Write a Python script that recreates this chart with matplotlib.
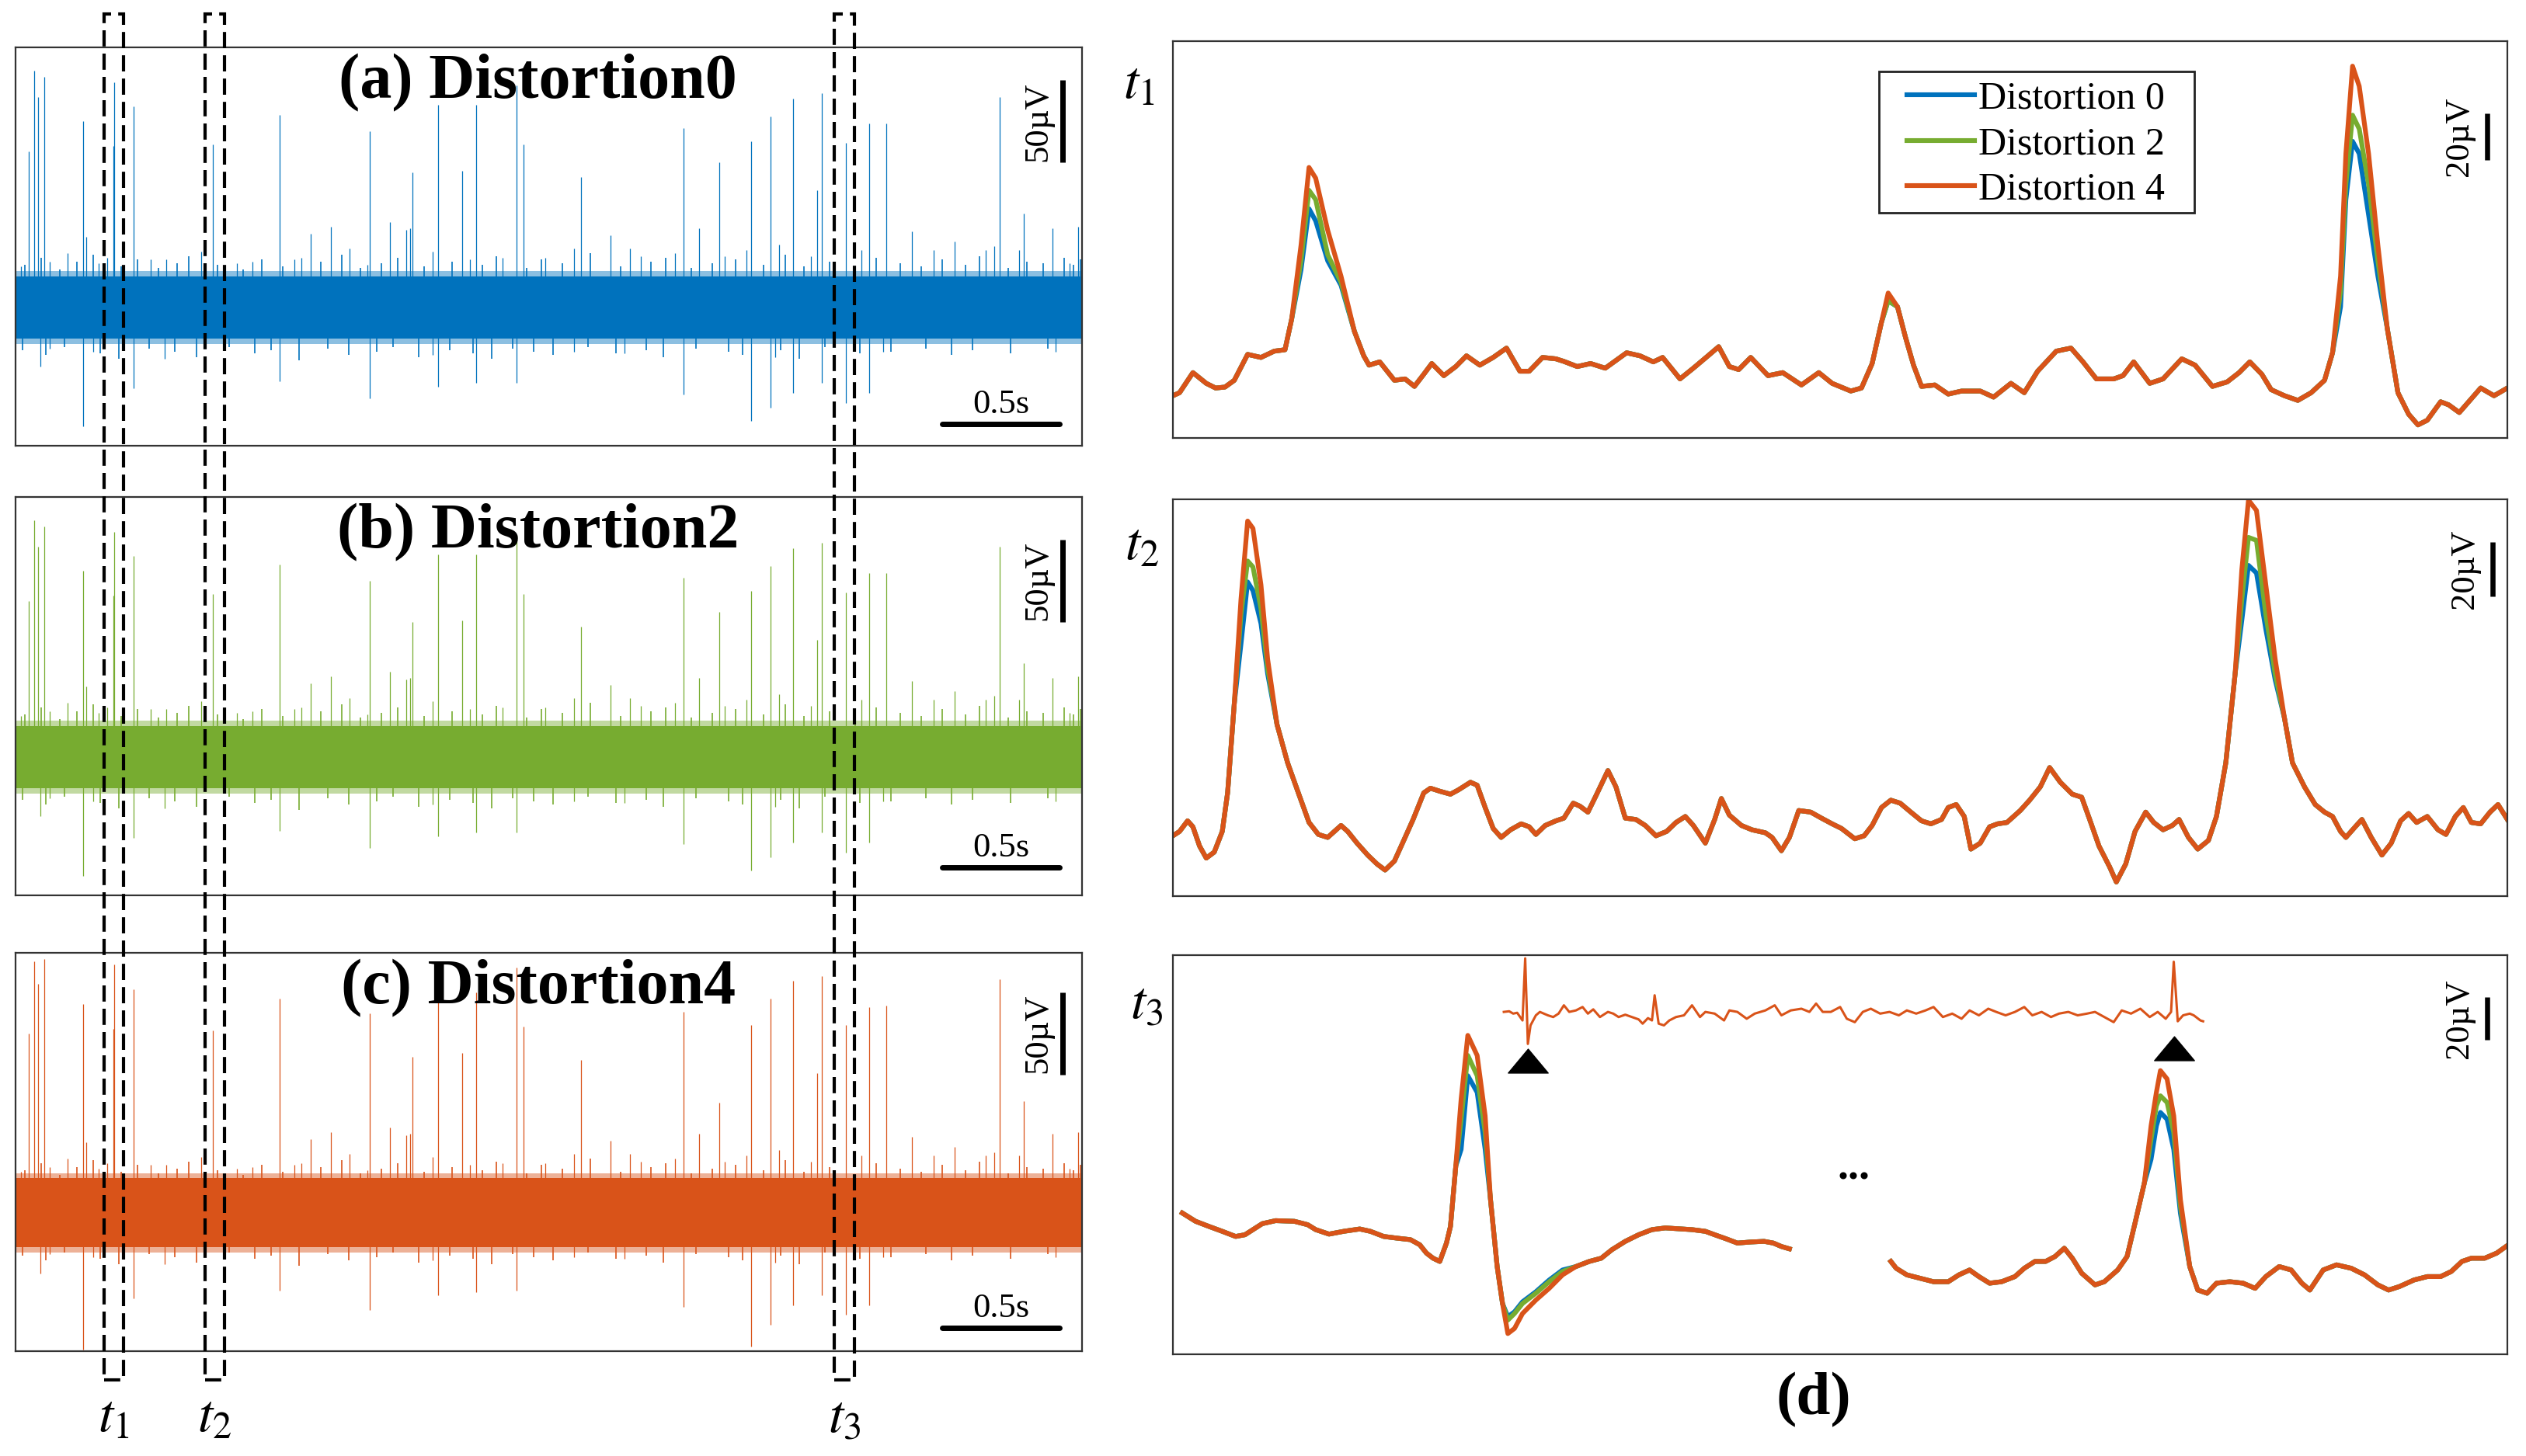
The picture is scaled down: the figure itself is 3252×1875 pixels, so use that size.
import numpy as np
import matplotlib.pyplot as plt
from matplotlib import transforms
from matplotlib.patches import Rectangle
from matplotlib.path import Path

plt.rcParams['font.family'] = ['Liberation Serif', 'DejaVu Serif']
plt.rcParams['mathtext.fontset'] = 'stix'

C_BLUE, C_GREEN, C_ORANGE = '#0072BD', '#77AC30', '#D95319'

# ---------------- left: raw recordings (time in s, amplitude in uV) ----------------
T_END = 4.546
RAW_YLIM = (-83, 159)
band_ab = (-18, 20)
band_c = (-20, 22)

spike_t = [0.055, 0.080, 0.095, 0.122, 0.288, 0.416, 0.422, 0.502, 0.842, 1.126,
           1.509, 1.693, 1.800, 1.904, 1.965, 2.137, 2.167, 2.409, 2.847, 3.000,
           3.137, 3.217, 3.315, 3.416, 3.438, 3.539, 3.640, 3.710, 4.194, 4.298]
spike_up_a = [96, 145, 129, 141, 114, 99, 138, 123, 100, 118,
              108, 83, 124, 84, 124, 136, 100, 80, 110, 89,
              102, 117, 128, 72, 131, 101, 113, 113, 129, 58]
spike_up_c = [110, 154, 140, 155, 128, 113, 152, 137, 112, 131,
              122, 96, 133, 98, 135, 150, 114, 94, 123, 68,
              115, 131, 142, 86, 145, 115, 126, 127, 143, 69]

neg_t = [0.107, 0.288, 0.502, 1.126, 1.509, 1.800, 1.965, 2.137, 2.847, 3.137,
         3.217, 3.315, 3.438, 3.539, 3.640]
neg_a = [-35, -71, -48, -44, -54, -47, -45, -45, -52, -68, -60, -51, -45, -57, -51]
neg_c = [-36, -82, -51, -46, -58, -49, -47, -46, -56, -80, -67, -55, -49, -61, -55]

small_t = [0.024, 0.147, 0.223, 0.300, 0.355, 0.392, 0.575, 0.643, 0.790, 0.943,
           1.010, 1.188, 1.218, 1.258, 1.344, 1.423, 1.500, 1.595, 1.665, 1.681,
           1.778, 1.938, 2.075, 2.259, 2.381, 2.535, 2.620, 2.666, 2.810, 2.914,
           3.024, 3.116, 3.254, 3.392, 3.606, 3.820, 3.912, 4.004, 4.135, 4.172,
           4.279, 4.420, 4.494, 4.530]
small_up = [26, 29, 34, 44, 28, 31, 30, 30, 35, 28,
            29, 30, 31, 46, 50, 37, 27, 53, 48, 49,
            35, 30, 31, 31, 37, 45, 37, 32, 34, 49,
            32, 36, 39, 32, 36, 47, 36, 41, 36, 38,
            36, 49, 28, 50]
small_dn_t = [0.147, 0.331, 0.637, 1.778, 2.381, 2.596, 3.239, 3.698, 4.432]
small_dn = [-24, -26, -30, -28, -26, -27, -29, -26, -26]

# ragged edge of the noise band
fringe_up_t = [0.04, 0.11, 0.19, 0.26, 0.33, 0.45, 0.52, 0.61, 0.69, 0.74,
               0.86, 0.97, 1.05, 1.14, 1.30, 1.39, 1.47, 1.56, 1.63, 1.74,
               1.86, 1.99, 2.05, 2.18, 2.24, 2.33, 2.45, 2.58, 2.71, 2.77,
               2.88, 2.97, 3.07, 3.19, 3.28, 3.36, 3.47, 3.58, 3.67, 3.77,
               3.86, 3.95, 4.05, 4.11, 4.23, 4.31, 4.38, 4.47, 4.51, 4.54]
fringe_up = [27, 31, 24, 29, 33, 26, 30, 25, 28, 32,
             27, 24, 30, 26, 29, 33, 25, 28, 31, 26,
             29, 27, 32, 25, 30, 28, 34, 26, 29, 31,
             25, 28, 30, 27, 33, 26, 29, 24, 31, 28,
             26, 30, 27, 32, 25, 29, 28, 31, 27, 30]
fringe_dn_t = [0.03, 0.13, 0.21, 0.36, 0.44, 0.57, 0.68, 0.77, 0.91, 1.02,
               1.09, 1.21, 1.33, 1.42, 1.54, 1.61, 1.72, 1.85, 1.95, 2.03,
               2.12, 2.21, 2.29, 2.44, 2.56, 2.69, 2.76, 2.90, 3.04, 3.10,
               3.26, 3.34, 3.45, 3.60, 3.73, 3.88, 3.99, 4.08, 4.24, 4.40]
fringe_dn = [-25, -28, -23, -27, -30, -24, -26, -29, -23, -27,
             -25, -31, -24, -28, -26, -23, -29, -25, -27, -30,
             -24, -26, -28, -23, -27, -25, -29, -24, -26, -28,
             -25, -30, -23, -27, -26, -24, -28, -25, -27, -24]

# windows t1, t2, t3 (s)
box_edges = [(0.377, 0.460), (0.808, 0.891), (3.490, 3.576)]

# ---------------- right: zoomed windows (sample, uV) ----------------
t1_x = [0, 0.5, 1.5, 2.5, 3.2, 3.9, 4.6, 5.6, 6.6, 7.6,
        8.4, 8.9, 9.6, 10.2, 10.7, 11.6, 12.6, 13.6, 14.3, 14.7,
        15.5, 16.6, 17.4, 18.1, 18.8, 19.4, 20.3, 21.2, 22.0, 23.0,
        24.0, 25.0, 26.0, 26.7, 27.7, 28.7, 29.3, 30.3, 31.3, 32.4,
        34.0, 35.0, 36.0, 36.7, 38.0, 39.0, 40.1, 40.9, 41.7, 42.4,
        43.3, 44.6, 45.7, 47.1, 48.4, 49.4, 50.8, 51.6, 52.4, 53.1,
        53.6, 54.3, 54.9, 55.5, 56.1, 57.1, 58.1, 59.1, 60.5, 61.5,
        62.8, 63.8, 64.8, 66.2, 67.3, 68.2, 69.2, 70.5, 71.2, 72.0,
        73.2, 74.2, 75.6, 76.6, 77.9, 79.0, 79.9, 80.7, 81.6, 82.3,
        83.3, 84.3, 85.3, 86.3, 86.9, 87.5, 87.9, 88.4, 88.9, 89.6,
        90.3, 91.0, 91.8, 92.6, 93.3, 94.0, 95.0, 95.6, 96.4, 97.3,
        98.0, 99.0, 100.0]
t1_y = [18.1, 19.4, 28.0, 23.4, 21.4, 21.8, 24.7, 35.8, 34.5, 37.2,
        37.8, 50.9, 82.5, 115.9, 111.3, 89.0, 69.3, 45.7, 35.2, 31.2,
        32.6, 24.7, 25.3, 22.1, 27.3, 31.9, 26.7, 30.6, 35.2, 31.2,
        34.5, 38.5, 28.6, 28.6, 34.5, 33.9, 32.8, 30.6, 31.9, 29.9,
        36.5, 35.2, 32.6, 34.5, 25.3, 29.9, 35.2, 39.1, 30.6, 29.3,
        34.5, 26.7, 28.0, 22.7, 28.0, 23.4, 20.1, 21.4, 31.9, 49.6,
        62.1, 56.2, 43.1, 31.2, 22.1, 22.7, 18.8, 20.1, 20.1, 17.5,
        23.4, 19.4, 28.6, 37.2, 38.5, 32.6, 25.3, 25.3, 26.7, 32.6,
        23.4, 25.3, 33.9, 31.2, 22.1, 24.0, 28.0, 32.6, 27.3, 20.7,
        18.1, 16.1, 19.4, 24.7, 36.5, 69.3, 121.8, 159.3, 150.7, 121.8,
        82.5, 47.0, 19.4, 10.2, 5.6, 7.6, 15.5, 14.2, 10.9, 16.8,
        21.4, 18.1, 21.4]
t1_peak_x = [9.6, 10.2, 10.7, 11.6, 12.6, 53.6, 87.5, 87.9, 88.4, 88.9, 89.6, 90.3]
t1_peak_blue = [72.0, 98.2, 93.0, 75.9, 65.4, 58.8, 56.2, 102.1, 127.1, 121.8, 95.6, 69.3]
t1_peak_green = [75.9, 106.1, 102.1, 78.5, 66.7, 58.8, 62.8, 108.7, 138.3, 132.4, 108.7, 75.9]

t2_x = [0, 0.5, 1.1, 1.5, 2.0, 2.5, 3.1, 3.7, 4.1, 4.6,
        5.1, 5.6, 6.0, 6.6, 7.1, 7.8, 8.6, 9.4, 10.2, 10.9,
        11.6, 12.1, 12.6, 13.1, 13.8, 14.6, 15.3, 15.9, 16.6, 17.3,
        18.0, 18.8, 19.3, 20.0, 20.8, 21.4, 22.3, 22.8, 23.4, 24.0,
        24.6, 25.3, 26.1, 26.7, 27.2, 27.9, 28.7, 29.3, 30.0, 30.5,
        31.1, 31.7, 32.6, 33.2, 33.9, 34.7, 35.4, 36.2, 37.0, 37.7,
        38.4, 39.0, 39.9, 40.6, 41.1, 41.7, 42.6, 43.4, 44.4, 44.9,
        45.6, 46.2, 46.9, 47.8, 48.6, 49.4, 50.1, 51.1, 51.8, 52.4,
        53.1, 53.8, 54.5, 55.3, 56.1, 56.8, 57.6, 58.1, 58.7, 59.3,
        59.8, 60.5, 61.2, 61.8, 62.5, 63.5, 64.2, 65.0, 65.7, 66.5,
        67.4, 68.1, 68.7, 69.4, 70.2, 70.7, 71.4, 72.1, 72.9, 73.5,
        74.2, 74.9, 75.4, 76.1, 76.8, 77.6, 78.2, 78.9, 79.6, 80.1,
        80.6, 81.2, 81.9, 82.6, 83.3, 83.9, 84.8, 85.6, 86.3, 86.9,
        87.5, 87.9, 88.6, 89.1, 89.8, 90.6, 91.3, 92.0, 92.6, 93.2,
        94.0, 94.8, 95.4, 96.1, 96.7, 97.3, 98.0, 98.7, 99.3, 100.0]
t2_y = [22.2, 23.8, 27.7, 25.5, 18.4, 14.0, 16.2, 23.8, 38.0, 70.8,
        109.1, 138.0, 135.3, 114.5, 87.2, 63.2, 49.0, 38.0, 27.1, 22.7,
        21.6, 23.8, 26.0, 23.8, 19.5, 15.1, 11.8, 9.6, 12.9, 20.5,
        28.2, 38.0, 39.7, 38.6, 37.5, 39.1, 41.9, 40.8, 32.6, 24.9,
        21.6, 24.4, 26.6, 25.5, 22.7, 26.0, 27.7, 28.7, 34.2, 33.1,
        30.9, 36.9, 46.2, 40.2, 28.7, 28.2, 26.0, 22.2, 23.8, 27.1,
        29.3, 26.0, 19.5, 28.2, 35.9, 29.8, 26.0, 24.4, 23.3, 21.6,
        16.7, 21.6, 31.5, 30.9, 28.7, 26.6, 24.9, 21.1, 22.2, 26.0,
        32.6, 35.3, 34.2, 30.9, 27.7, 26.6, 28.2, 32.6, 33.7, 29.3,
        17.3, 19.5, 25.5, 26.6, 27.1, 31.5, 35.3, 40.2, 47.3, 41.9,
        37.5, 36.4, 28.2, 18.4, 10.7, 5.2, 11.8, 23.8, 30.9, 27.1,
        24.4, 26.0, 28.2, 21.6, 17.3, 20.5, 29.3, 49.0, 81.8, 120.0,
        145.7, 141.9, 114.5, 87.2, 65.4, 49.0, 40.2, 33.7, 30.9, 29.3,
        23.8, 21.6, 25.5, 28.2, 21.6, 15.1, 19.5, 27.7, 30.4, 27.1,
        29.3, 24.4, 22.7, 29.3, 32.6, 27.1, 26.6, 30.9, 33.7, 28.2]
t2_peak_x = [5.1, 5.6, 6.0, 6.6, 7.1, 80.1, 80.6, 81.2, 81.9, 82.6]
t2_peak_blue = [92.7, 115.6, 112.4, 100.3, 81.8, 101.4, 121.7, 118.9, 98.2, 79.6]
t2_peak_green = [103.6, 123.3, 121.1, 105.8, 83.9, 109.1, 132.0, 130.9, 103.6, 81.8]

t3a_x = [0.7, 1.7, 2.7, 3.7, 4.7, 5.4, 6.0, 6.7, 7.7, 9.1,
         10.1, 10.7, 11.7, 12.8, 14.0, 14.8, 15.8, 16.8, 17.8, 18.5,
         19.0, 19.5, 20.0, 20.5, 20.8, 21.2, 21.6, 22.1, 22.8, 23.4,
         23.8, 24.3, 24.7, 25.1, 25.6, 26.2, 27.2, 28.2, 29.2, 30.2,
         31.2, 32.1, 32.9, 33.9, 34.9, 35.9, 36.9, 37.9, 38.9, 39.9,
         40.6, 41.5, 42.3, 43.3, 44.3, 45.0, 45.6, 46.2]
t3a_y = [66.2, 62.3, 59.9, 57.6, 55.2, 56.0, 58.4, 61.2, 62.6, 62.3,
         60.7, 58.4, 56.3, 57.6, 58.7, 57.6, 55.2, 54.4, 53.7, 51.3,
         47.4, 45.0, 43.5, 52.1, 59.9, 88.2, 119.6, 149.4, 140.0, 111.7,
         72.5, 41.1, 23.8, 9.7, 12.1, 19.1, 25.4, 30.9, 37.2, 41.1,
         43.5, 45.0, 49.0, 52.9, 56.0, 58.4, 59.2, 58.8, 58.4, 57.6,
         56.0, 54.0, 52.1, 52.6, 52.9, 52.1, 50.5, 49.4]
t3a_peak_x = [21.6, 22.1, 22.8, 23.4, 25.1, 25.6, 26.2, 27.2, 28.2, 29.2]
t3a_peak_blue = [96.0, 130.5, 122.7, 96.0, 17.6, 19.9, 24.6, 29.3, 34.8, 39.5]
t3a_peak_green = [110.1, 140.0, 130.5, 103.9, 16.0, 19.1, 23.8, 28.6, 34.0, 38.8]

t3b_x = [53.8, 54.2, 55.0, 56.0, 57.0, 58.1, 58.9, 59.7, 60.4, 61.2,
         62.1, 63.1, 63.8, 64.6, 65.4, 66.1, 66.8, 67.4, 68.1, 69.1,
         69.8, 70.8, 71.5, 72.1, 72.8, 73.3, 73.7, 74.0, 74.5, 75.0,
         75.5, 76.2, 76.8, 77.5, 78.2, 79.2, 80.2, 81.1, 81.9, 82.9,
         83.8, 84.6, 85.2, 86.2, 87.2, 88.3, 89.3, 90.3, 91.1, 91.9,
         93.0, 94.0, 95.0, 95.8, 96.6, 97.3, 98.3, 99.2, 99.9]
t3b_y = [43.5, 40.3, 37.2, 35.6, 34.0, 34.0, 37.2, 39.5, 36.4, 33.3,
         34.0, 36.4, 40.3, 43.5, 43.5, 45.8, 49.7, 45.0, 38.0, 32.5,
         34.0, 39.5, 45.8, 61.5, 80.3, 107.0, 122.7, 132.9, 129.0, 111.7,
         72.5, 41.1, 30.1, 28.6, 33.3, 34.0, 33.3, 30.9, 36.4, 41.1,
         39.5, 33.3, 30.1, 39.5, 41.9, 40.3, 37.2, 32.5, 30.1, 31.7,
         34.8, 36.4, 36.4, 38.8, 43.5, 45.0, 45.0, 47.4, 50.5]
t3b_peak_x = [73.3, 73.7, 74.0, 74.5, 75.0, 75.5]
t3b_peak_blue = [91.3, 107.0, 113.3, 110.1, 96.0, 66.0]
t3b_peak_green = [100.7, 116.4, 121.1, 118.0, 103.9, 69.3]

# raw trace between the two windows of t3
ins_x = [24.8, 25.2, 25.5, 25.8, 26.2, 26.4, 26.6, 26.8, 27.2, 27.5,
         28.1, 28.5, 28.9, 29.3, 29.7, 30.2, 30.7, 31.1, 31.5, 32.0,
         32.6, 33.0, 33.4, 33.9, 34.4, 34.9, 35.2, 35.6, 35.9, 36.1,
         36.4, 36.8, 37.2, 37.7, 38.3, 38.9, 39.5, 39.9, 40.6, 41.3,
         41.7, 42.3, 43.0, 43.6, 44.4, 45.1, 45.6, 46.3, 47.1, 47.7,
         48.2, 48.7, 49.3, 50.0, 50.5, 51.1, 51.7, 52.3, 53.0, 53.7,
         54.4, 55.0, 55.7, 56.4, 57.0, 57.7, 58.4, 59.1, 59.7, 60.4,
         61.1, 61.7, 62.4, 63.1, 63.8, 64.4, 65.1, 65.8, 66.4, 67.1,
         67.8, 68.5, 69.1, 69.8, 70.5, 71.1, 71.8, 72.5, 73.2, 73.8,
         74.4, 74.8, 75.0, 75.3, 75.7, 76.2, 76.5, 77.0, 77.2]
ins_y = [160.4, 160.7, 159.6, 160.0, 156.4, 185.5, 145.4, 154.1, 158.8, 160.4,
         158.8, 158.0, 159.6, 163.5, 160.4, 161.1, 162.7, 159.6, 161.6, 158.0,
         160.4, 159.6, 158.0, 159.1, 158.0, 156.9, 154.9, 157.5, 156.4, 168.2,
         154.9, 154.1, 156.4, 158.0, 158.8, 163.5, 158.0, 160.4, 159.6, 156.4,
         161.1, 160.4, 157.2, 159.6, 161.1, 163.5, 158.8, 161.1, 161.9, 160.4,
         164.3, 160.4, 160.4, 162.7, 157.2, 155.6, 160.4, 161.9, 159.6, 160.4,
         158.8, 161.1, 159.6, 161.1, 162.7, 158.0, 159.6, 157.2, 161.1, 158.8,
         161.9, 160.4, 158.8, 160.4, 162.7, 158.8, 160.4, 158.0, 159.6, 160.4,
         158.8, 159.6, 160.4, 158.0, 155.6, 161.1, 159.6, 161.9, 158.0, 160.4,
         157.2, 160.4, 183.9, 156.0, 158.8, 159.6, 158.8, 156.4, 156.0]
mark_x = [26.6, 75.0]
mark_y = [137.6, 143.4]


def with_peaks(x, base, px, vals):
    out = list(base)
    for p, v in zip(px, vals):
        out[x.index(p)] = v
    return out


fig = plt.figure(figsize=(32.52, 18.75), dpi=100)
W, H = 3252, 1875


def px_axes(x0, y0, x1, y1):
    ax = fig.add_axes([x0 / W, 1 - y1 / H, (x1 - x0) / W, (y1 - y0) / H])
    ax.set_xticks([])
    ax.set_yticks([])
    for s in ax.spines.values():
        s.set_color('#333333')
        s.set_linewidth(1.6)
    return ax


def raw_panel(ax, colour, band, up, dn, title, vbar, hbar):
    lo, hi = band
    ax.fill_between([0, T_END], lo - 3, hi + 3, color=colour, alpha=0.45, lw=0)
    ax.fill_between([0, T_END], lo, hi, color=colour, lw=0)
    ax.vlines(fringe_up_t, 0, fringe_up, color=colour, lw=1.2)
    ax.vlines(fringe_dn_t, 0, fringe_dn, color=colour, lw=1.2)
    ax.vlines(small_t, 0, small_up, color=colour, lw=0.9)
    ax.vlines(small_dn_t, 0, small_dn, color=colour, lw=0.9)
    ax.vlines(spike_t, 0, up, color=colour, lw=0.9)
    ax.vlines(neg_t, 0, dn, color=colour, lw=0.9)
    ax.set_xlim(0, T_END)
    ax.set_ylim(*RAW_YLIM)
    ax.text(0.490, 0.873, title, transform=ax.transAxes, ha='center', va='baseline',
            fontsize=59, fontweight='bold')
    # 50 uV and 0.5 s scale bars
    ax.plot([4.463, 4.463], [vbar, vbar + 50], color='k', lw=5, solid_capstyle='butt')
    ax.text(4.357, vbar + 25, '50µV', rotation=90, ha='center', va='center', fontsize=32)
    ax.plot([3.95, 4.45], [hbar, hbar], color='k', lw=5, solid_capstyle='round')
    ax.text(4.20, hbar + 12, '0.5s', ha='center', va='center', fontsize=32)


ax_a = px_axes(20, 61, 1393, 574)
ax_b = px_axes(20, 640, 1393, 1153)
ax_c = px_axes(20, 1227, 1393, 1740)
raw_panel(ax_a, C_BLUE, band_ab, spike_up_a, neg_a, '(a) Distortion0', 89, -70)
raw_panel(ax_b, C_GREEN, band_ab, spike_up_a, neg_a, '(b) Distortion2', 83, -66)
raw_panel(ax_c, C_ORANGE, band_c, spike_up_c, neg_c, '(c) Distortion4', 85, -69)

# dashed windows across the three raw panels
trans = transforms.blended_transform_factory(ax_a.transData, fig.transFigure)
y_lo, y_hi = 1 - 1777 / H, 1 - 18 / H
for i, (x0, x1) in enumerate(box_edges):
    fig.add_artist(Rectangle((x0, y_lo), x1 - x0, y_hi - y_lo, transform=trans,
                             fill=False, ec='k', lw=3, ls=(0, (5, 2.2)), zorder=10))
    fig.text((x0 + x1) / 2, 1 - 1827 / H, r'$t_%d$' % (i + 1), transform=trans,
             ha='center', va='center', fontsize=50)


def zoom_panel(ax, segs, ylim, bar):
    lines = []
    for x, base, px, pb, pg in segs:
        blue = with_peaks(x, base, px, pb)
        green = with_peaks(x, base, px, pg)
        lines = [ax.plot(x, blue, color=C_BLUE, lw=4.4)[0],
                 ax.plot(x, green, color=C_GREEN, lw=4.4)[0],
                 ax.plot(x, base, color=C_ORANGE, lw=4.4)[0]]
    ax.set_xlim(0, 100)
    ax.set_ylim(0, ylim)
    bx, by = bar
    ax.plot([bx, bx], [by, by + 20], color='k', lw=4.7, solid_capstyle='butt')
    ax.text(bx - 2.1, by + 10, '20µV', rotation=90, ha='center', va='center', fontsize=32)
    return lines


ax_t1 = px_axes(1510, 53, 3228, 564)
ax_t2 = px_axes(1510, 643, 3228, 1154)
ax_t3 = px_axes(1510, 1230, 3228, 1744)

h = zoom_panel(ax_t1, [(t1_x, t1_y, t1_peak_x, t1_peak_blue, t1_peak_green)], 170, (98.5, 119.1))
zoom_panel(ax_t2, [(t2_x, t2_y, t2_peak_x, t2_peak_blue, t2_peak_green)], 146, (98.9, 110.3))
zoom_panel(ax_t3, [(t3a_x, t3a_y, t3a_peak_x, t3a_peak_blue, t3a_peak_green),
                   (t3b_x, t3b_y, t3b_peak_x, t3b_peak_blue, t3b_peak_green)], 187, (98.5, 147.4))
ax_t3.plot(ins_x, ins_y, color=C_ORANGE, lw=2.2)
tri = Path([(-1, -0.6), (1, -0.6), (0, 0.6), (-1, -0.6)],
           [Path.MOVETO, Path.LINETO, Path.LINETO, Path.CLOSEPOLY])
ax_t3.plot(mark_x, mark_y, ls='none', marker=tri, markersize=37, color='k')
ax_t3.text(51.0, 87, '...', ha='center', va='center', fontsize=40, fontweight='bold')

# legend: frame drawn separately so the padding matches the original
ax_t1.add_patch(Rectangle((0.5291, 0.5675), 0.2363, 0.3562, transform=ax_t1.transAxes,
                          fc='white', ec='#222222', lw=2, zorder=4))
leg = ax_t1.legend(h, ['Distortion 0', 'Distortion 2', 'Distortion 4'],
                   loc='upper left', bbox_to_anchor=(0.550, 0.900), fontsize=36,
                   handlelength=1.74, handletextpad=0.1, borderpad=0,
                   labelspacing=0.24, frameon=False, borderaxespad=0)
leg.set_zorder(5)

for lab, (x, y) in zip([r'$t_1$', r'$t_2$', r'$t_3$'], [(1466, 110), (1470, 704), (1476, 1294)]):
    fig.text(x / W, 1 - y / H, lab, ha='center', va='center', fontsize=50)
fig.text(2335 / W, 1 - 1803 / H, '(d)', ha='center', va='center', fontsize=57, fontweight='bold')

fig.savefig('out.png', dpi=100)
